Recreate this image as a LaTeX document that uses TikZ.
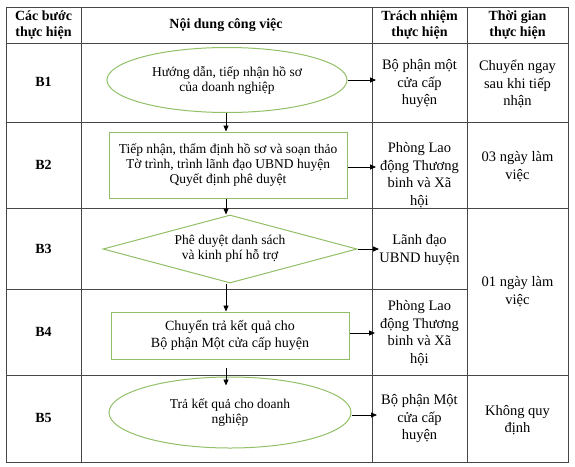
\documentclass[tikz,border=0pt]{standalone}
\usepackage{fontspec}
\setmainfont{Liberation Serif}
\usetikzlibrary{shapes.geometric,arrows.meta}
\definecolor{shapegreen}{RGB}{146,192,104}
\definecolor{gridgray}{RGB}{70,70,70}
\begin{document}
\begin{tikzpicture}[x=1pt,y=-1pt,
  gridline/.style={draw=gridgray,line width=1pt},
  flowshape/.style={draw=shapegreen,line width=1pt,align=center,inner sep=0pt,
    font=\fontsize{13.5}{15}\selectfont},
  ovalbox/.style={flowshape,ellipse},
  rectbox/.style={flowshape,rectangle},
  diabox/.style={flowshape,diamond,shape aspect=3.7},
  headtext/.style={align=center,font=\bfseries\fontsize{14}{15.5}\selectfont},
  steptext/.style={align=center,font=\bfseries\fontsize{14}{16}\selectfont},
  celltext/.style={align=center,font=\fontsize{14.5}{17.5}\selectfont},
  flowarrow/.style={draw=black,line width=0.8pt,-{Triangle[length=6pt,width=5pt]}}
]
\fill[white] (0,0) rectangle (575,466);
\useasboundingbox (0,0) rectangle (575,466);

% table grid
\draw[gridline] (6,7) rectangle (568,462);
\draw[gridline] (6,43) -- (568,43);
\draw[gridline] (6,122) -- (568,122);
\draw[gridline] (6,208) -- (568,208);
\draw[gridline] (6,289) -- (467,289);
\draw[gridline] (6,375) -- (568,375);
\draw[gridline] (81,7) -- (81,462);
\draw[gridline] (372,7) -- (372,462);
\draw[gridline] (467,7) -- (467,462);

% header
\node[headtext] (h1) at (43.5,25) {Các bước\\thực hiện};
\node[headtext] (h2) at (226,25) {Nội dung công việc};
\node[headtext] (h3) at (419.5,25) {Trách nhiệm\\thực hiện};
\node[headtext] (h4) at (517.5,25) {Thời gian\\thực hiện};

% step labels
\node[steptext] (s1) at (43.5,82) {B1};
\node[steptext] (s2) at (43.5,165) {B2};
\node[steptext] (s3) at (43.5,249) {B3};
\node[steptext] (s4) at (43.5,332) {B4};
\node[steptext] (s5) at (43.5,418) {B5};

% flow shapes
\node[ovalbox,minimum width=240pt,minimum height=65pt] (b1) at (227,80)
  {Hướng dẫn, tiếp nhận hồ sơ\\của doanh nghiệp};
\node[rectbox,minimum width=238pt,minimum height=66pt] (b2) at (228,165)
  {Tiếp nhận, thẩm định hồ sơ và soạn thảo\\Tờ trình, trình lãnh đạo UBND huyện\\Quyết định phê duyệt};
\node[diabox,minimum width=254pt,minimum height=68pt] (b3) at (230,249)
  {Phê duyệt danh sách\\và kinh phí hỗ trợ};
\node[rectbox,minimum width=238pt,minimum height=47pt,
  font=\fontsize{14}{17}\selectfont] (b4) at (230,335.5)
  {Chuyển trả kết quả cho\\Bộ phận Một cửa cấp huyện};
\node[ovalbox,minimum width=242pt,minimum height=71pt] (b5) at (230,412.5)
  {Trả kết quả cho doanh\\nghiệp};

% responsibility column
\node[celltext] (r1) at (419.5,84) {Bộ phận một\\cửa cấp\\huyện};
\node[celltext] (r2) at (419.5,175) {Phòng Lao\\động Thương\\binh và Xã\\hội};
\node[celltext] (r3) at (419.5,250) {Lãnh đạo\\UBND huyện};
\node[celltext] (r4) at (419.5,333) {Phòng Lao\\động Thương\\binh và Xã\\hội};
\node[celltext] (r5) at (419.5,419) {Bộ phận Một\\cửa cấp\\huyện};

% time column
\node[celltext] (t1) at (517.5,84) {Chuyển ngay\\sau khi tiếp\\nhận};
\node[celltext] (t2) at (517.5,166.5) {03 ngày làm\\việc};
\node[celltext] (t3) at (517.5,291.5) {01 ngày làm\\việc};
\node[celltext] (t5) at (517.5,420) {Không quy\\định};

% arrow end points at the responsibility column
\coordinate (e1) at (376,80);
\coordinate (e2) at (376,167);
\coordinate (e3) at (379,249);
\coordinate (e4) at (375,333);
\coordinate (e5) at (377,415);

% horizontal arrows
\draw[flowarrow] (b1.east) -- (e1);
\draw[flowarrow] (b2.east |- e2) -- (e2);
\draw[flowarrow] (b3.east) -- (e3);
\draw[flowarrow] (b4.east |- e4) -- (e4);
\draw[flowarrow] (b5.east |- e5) -- (e5);

% vertical arrows
\coordinate (v1) at (226,113);
\draw[flowarrow] (b1.south -| v1) -- (b2.north -| v1);
\draw[flowarrow] (b2.south -| v1) -- (b3.north -| v1);
\draw[flowarrow] (b3.south -| v1) -- (b4.north -| v1);
\draw[flowarrow,shorten <=8pt,shorten >=-9pt] (b4.south -| v1) -- (b5.north -| v1);
\end{tikzpicture}
\end{document}
